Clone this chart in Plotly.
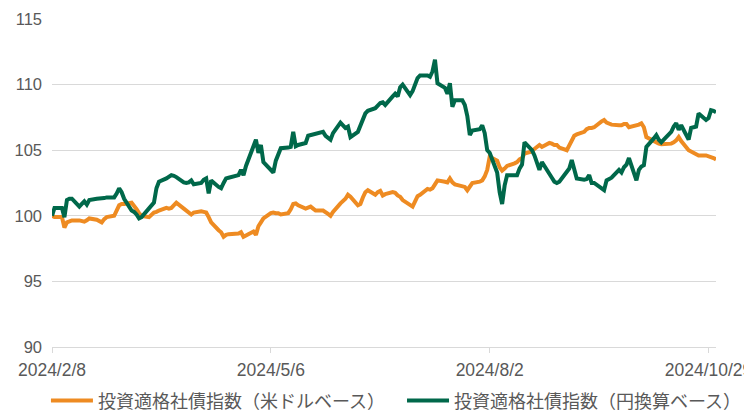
import pandas as pd
import plotly.graph_objects as go

# business days 2024-02-08 .. 2024-11-01
dates = pd.bdate_range("2024-02-08", "2024-11-01")

usd_feb = [100.0, 99.9, 99.9, 99.1, 99.5, 99.6, 99.65, 99.65, 99.6, 99.55, 99.65, 99.8, 99.7, 99.6, 99.5, 99.75]
usd_mar = [99.9, 100.0, 100.4, 100.8, 100.9, 100.9, 101.0, 100.8, 100.5, 100.2, 100.0,
           99.9, 100.1, 100.25, 100.3, 100.4, 100.6, 100.55, 100.6, 100.8, 101.0]
usd_apr = [100.55, 100.4, 100.2, 100.1, 100.25, 100.35, 100.3, 100.25, 99.9, 99.5,
           98.9, 98.75, 98.4, 98.55, 98.6, 98.6, 98.65, 98.75, 98.4, 98.5, 98.8, 98.55]
usd_may = [99.2, 99.5, 99.8, 100.2, 100.25, 100.2, 100.2, 100.1, 100.2, 100.5, 100.9, 100.95, 100.8,
           100.55, 100.65, 100.7, 100.55, 100.4, 100.4, 100.3, 100.15, 100.0, 100.3]
usd_jun = [100.95, 101.1, 101.3, 101.6, 101.45, 100.8, 100.9, 101.4, 101.8, 101.95,
           101.6, 101.8, 101.9, 101.55, 101.65, 101.8, 101.75, 101.55, 101.45, 101.2]
usd_jul = [100.8, 100.7, 101.1, 101.5, 101.6, 102.05, 102.0, 102.1, 102.4, 102.7,
           102.6, 102.55, 102.85, 102.55, 102.4, 102.3, 102.2, 101.95, 102.3, 102.5, 102.6, 102.7, 103.0]
usd_aug = [103.5, 104.5, 104.2, 103.7, 103.45, 103.6, 103.8, 104.0, 104.1, 104.3, 104.4, 104.75,
           104.9, 105.1, 105.3, 105.4, 105.25, 105.55, 105.5, 105.4, 105.4, 105.2]
usd_sep = [105.0, 105.4, 105.7, 106.1, 106.2, 106.4, 106.6, 106.7, 106.7, 106.75,
           107.2, 107.3, 107.1, 107.0, 106.95, 106.9, 106.9, 107.0, 107.0, 106.75, 106.85]
usd_oct = [106.95, 107.05, 106.75, 106.0, 105.7, 105.55, 105.5, 105.45, 105.45,
           105.5, 105.6, 105.75, 106.0, 105.7, 105.0, 104.9, 104.8, 104.7, 104.6,
           104.6, 104.55, 104.5, 104.4]
usd_nov = [104.3]

jpy_feb = [100.0, 100.6, 100.6, 99.9, 101.2, 101.3, 101.3, 100.7, 100.9, 101.1, 100.85, 101.2, 101.3, 101.3, 101.3, 101.35]
jpy_mar = [101.4, 101.4, 101.7, 102.1, 101.8, 101.3, 100.4, 100.3, 100.1, 99.8, 99.9,
           100.5, 100.7, 101.0, 102.1, 102.6, 102.85, 103.0, 103.1, 103.05, 102.95]
jpy_apr = [102.55, 102.5, 102.55, 102.7, 102.4, 102.5, 102.75, 102.85, 101.7, 102.7,
           102.2, 102.1, 102.5, 102.85, 102.9, 103.1, 103.1, 103.5, 103.1, 103.8, 105.3, 105.8]
jpy_may = [104.8, 105.4, 104.1, 103.5, 103.3, 104.2, 104.8, 105.15, 105.2, 105.25, 106.4, 105.3, 105.4,
           105.55, 106.1, 106.15, 106.15, 106.2, 106.4, 106.1, 105.9, 105.8, 106.3]
jpy_jun = [107.1, 106.9, 106.7, 106.8, 106.0, 106.4, 106.9, 107.3, 107.8, 108.0,
           108.2, 108.4, 108.6, 108.65, 108.45, 109.1, 109.3, 109.1, 109.8, 110.0]
jpy_jul = [109.2, 109.5, 110.0, 110.5, 110.7, 110.7, 110.6, 111.0, 111.9, 110.1,
           109.75, 109.3, 110.1, 108.3, 108.8, 108.8, 108.45, 107.6, 106.15, 106.5, 106.6, 106.9, 106.3]
jpy_aug = [105.0, 104.8, 103.3, 101.8, 100.9, 102.3, 103.1, 103.1, 103.1, 103.6, 103.9, 105.6,
           105.0, 104.6, 104.0, 103.5, 104.1, 103.1, 102.9, 102.6, 102.5, 102.6]
jpy_sep = [103.3, 103.6, 104.25, 103.5, 102.85, 102.75, 102.8, 103.1, 102.5, 102.5,
           102.1, 101.95, 102.7, 102.8, 102.9, 103.5, 103.3, 103.7, 103.9, 104.4, 102.7]
jpy_oct = [103.5, 103.75, 103.85, 105.25, 105.9, 106.15, 105.8, 105.6, 105.8,
           106.4, 106.8, 107.05, 106.55, 106.9, 105.8, 106.7, 106.75, 106.8, 107.8,
           107.3, 107.45, 108.05, 108.0]
jpy_nov = [107.9]

usd = usd_feb + usd_mar + usd_apr + usd_may + usd_jun + usd_jul + usd_aug + usd_sep + usd_oct + usd_nov
jpy = jpy_feb + jpy_mar + jpy_apr + jpy_may + jpy_jun + jpy_jul + jpy_aug + jpy_sep + jpy_oct + jpy_nov

tick_dates = ["2024-02-08", "2024-05-06", "2024-08-02", "2024-10-29"]
tick_labels = ["2024/2/8", "2024/5/6", "2024/8/2", "2024/10/29"]
y_ticks = [90, 95, 100, 105, 110, 115]

name_usd = "投資適格社債指数（米ドルベース）"
name_jpy = "投資適格社債指数（円換算ベース）"

ORANGE = "#EE8B22"
GREEN = "#00684A"
GRID = "#D9D9D9"
TEXT = "#595959"

fig = go.Figure()
fig.add_trace(go.Scatter(x=dates, y=usd, mode="lines", name=name_usd,
                         line=dict(color=ORANGE, width=4), legend="legend"))
fig.add_trace(go.Scatter(x=dates, y=jpy, mode="lines", name=name_jpy,
                         line=dict(color=GREEN, width=4), legend="legend2"))

legend_common = dict(orientation="h", xref="container", yref="container",
                     y=0.03, xanchor="left", yanchor="middle",
                     font=dict(family="Noto Sans CJK JP", size=18, color=TEXT),
                     itemwidth=42, bgcolor="rgba(0,0,0,0)")

# the page body has an 8px margin, so the figure is sized/offset to compensate
fig.update_layout(
    width=744, height=405,
    margin=dict(l=44, r=36, t=11, b=66, autoexpand=False),
    paper_bgcolor="white", plot_bgcolor="white",
    font=dict(family="Liberation Sans, Arial, sans-serif", size=16.5, color=TEXT),
    showlegend=True,
    legend=dict(x=0.051, **legend_common),
    legend2=dict(x=0.5296, **legend_common),
    hovermode=False,
)
fig.update_xaxes(
    type="date", range=["2024-02-08", "2024-11-01"],
    tickvals=tick_dates, ticktext=tick_labels,
    tickfont=dict(size=17.5), ticklabeloverflow="allow",
    showgrid=False, showline=True, linecolor=GRID, linewidth=1,
    ticks="outside", ticklen=5, tickcolor=GRID, tickwidth=1,
    ticklabelstandoff=2, zeroline=False,
)
fig.update_yaxes(
    range=[90, 115], tickvals=y_ticks,
    showgrid=True, gridcolor=GRID, gridwidth=1,
    showline=False, zeroline=False, ticks="", ticklabelstandoff=9,
)

fig.write_html("out.html", config={"displayModeBar": False})
